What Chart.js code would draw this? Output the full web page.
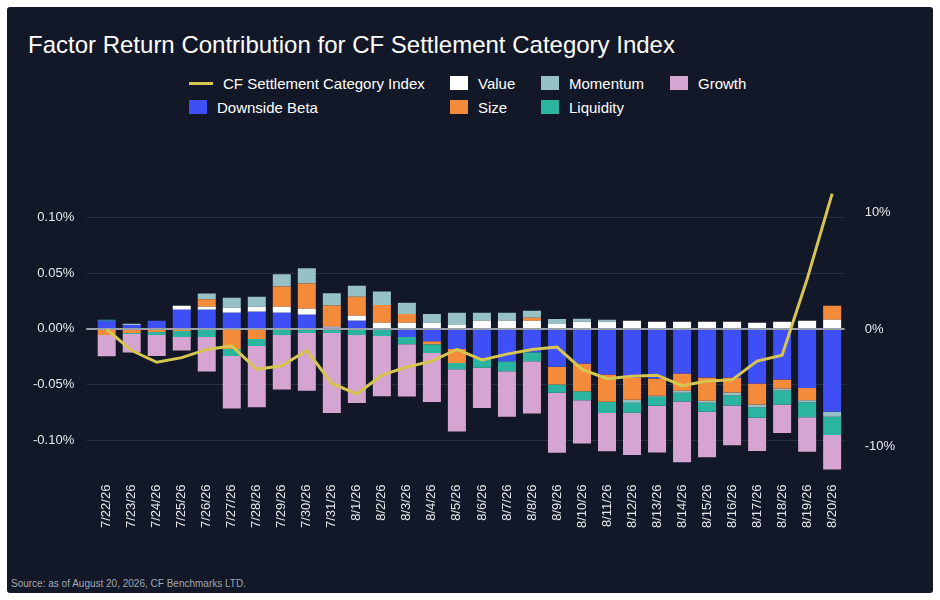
<!DOCTYPE html>
<html><head><meta charset="utf-8">
<script src="https://cdn.jsdelivr.net/npm/chart.js@4/dist/chart.umd.min.js"></script>
<style>
html,body{margin:0;padding:0;background:#fff;width:940px;height:600px;overflow:hidden;font-family:"Liberation Sans",Arial,sans-serif}
#panel{position:absolute;left:7px;top:7px;width:926px;height:586px;background:#121828;border-radius:3px}
#title{position:absolute;left:21px;top:24px;color:#fff;font-size:24px}
#legend{position:absolute;left:182px;top:67px;color:#fff;font-size:15px;display:grid;grid-template-columns:261px 91px 129px 120px;row-gap:6px}
.li{display:flex;align-items:center;gap:10px;height:18px}
.sw{width:18px;height:14px;display:inline-block}
.ln{width:24px;height:3px;display:inline-block}
#src{position:absolute;left:4px;bottom:4px;color:#a0a6b2;font-size:10px}
#wrap{position:absolute;left:0;top:124px;width:926px;height:410px}
</style></head><body>
<div id="panel">
<div id="title">Factor Return Contribution for CF Settlement Category Index</div>
<div id="legend"></div>
<div id="wrap"><canvas id="c"></canvas></div>
<div id="src">Source: as of August 20, 2026, CF Benchmarks LTD.</div>
</div>
<script>
const labels=["7/22/26","7/23/26","7/24/26","7/25/26","7/26/26","7/27/26","7/28/26","7/29/26","7/30/26","7/31/26","8/1/26","8/2/26","8/3/26","8/4/26","8/5/26","8/6/26","8/7/26","8/8/26","8/9/26","8/10/26","8/11/26","8/12/26","8/13/26","8/14/26","8/15/26","8/16/26","8/17/26","8/18/26","8/19/26","8/20/26"];
const downsideBeta=[0.0073,0.0036,0.0073,0.0173,0.0173,0.0145,0.0155,0.0145,0.0127,0.001,0.0073,0,-0.0073,-0.011,-0.018,-0.027,-0.029,-0.021,-0.034,-0.031,-0.041,-0.0436,-0.0445,-0.040,-0.0436,-0.0436,-0.049,-0.0455,-0.053,-0.0745];
const value=[0,0,0,0.0036,0.0027,0.0045,0.0045,0.0055,0.0055,0.001,0.0045,0.0055,0.0055,0.0055,0.0036,0.0073,0.0073,0.0073,0.0045,0.0064,0.0064,0.0073,0.0064,0.0064,0.0064,0.0064,0.0055,0.0064,0.0073,0.0082];
const size=[-0.0055,-0.0036,-0.0027,-0.0018,0.0067,-0.018,-0.009,0.018,0.0227,0.019,0.017,0.016,0.008,-0.0027,-0.0127,0,0,0.0027,-0.016,-0.025,-0.0245,-0.020,-0.0155,-0.0155,-0.021,-0.0136,-0.019,-0.008,-0.011,0.0127];
const momentum=[0,0.001,0,0,0.0052,0.009,0.009,0.011,0.0136,0.011,0.010,0.012,0.010,0.008,0.011,0.0073,0.0073,0.0064,0.0045,0.0027,0.0018,-0.0027,-0.001,-0.0018,-0.0018,-0.0027,-0.0027,-0.0018,-0.0018,-0.0045];
const liquidity=[0.001,-0.001,-0.0027,-0.0055,-0.0073,-0.0064,-0.0064,-0.0055,-0.0036,-0.0036,-0.0055,-0.0064,-0.0064,-0.008,-0.0055,-0.008,-0.009,-0.008,-0.0073,-0.008,-0.010,-0.009,-0.008,-0.008,-0.008,-0.009,-0.009,-0.0127,-0.0136,-0.0164];
const growth=[-0.019,-0.0165,-0.019,-0.012,-0.031,-0.047,-0.055,-0.049,-0.052,-0.072,-0.061,-0.054,-0.047,-0.044,-0.056,-0.036,-0.041,-0.047,-0.054,-0.039,-0.0345,-0.038,-0.042,-0.0545,-0.041,-0.0355,-0.030,-0.0255,-0.031,-0.031];
const indexReturn=[0,-1.8,-2.8,-2.4,-1.7,-1.4,-3.4,-3.1,-1.8,-4.6,-5.5,-3.9,-3.2,-2.7,-1.7,-2.6,-2.1,-1.7,-1.5,-3.4,-4.2,-4.0,-3.9,-4.8,-4.4,-4.3,-2.7,-2.2,4.3,11.6];
const leftTicks=[-0.1,-0.05,0,0.05,0.1];
const rightTicks=[-10,0,10];

const C={beta:"#3e4ff5",value:"#ffffff",size:"#f38b3a",mom:"#95c1c7",liq:"#2bb5a1",growth:"#d5a4d0",line:"#d6c64f"};
const leg=[["line",C.line,"CF Settlement Category Index"],["sw",C.value,"Value"],["sw",C.mom,"Momentum"],["sw",C.growth,"Growth"],["sw",C.beta,"Downside Beta"],["sw",C.size,"Size"],["sw",C.liq,"Liquidity"]];
document.getElementById('legend').innerHTML=leg.map(l=>`<div class="li"><span class="${l[0]=='line'?'ln':'sw'}" style="background:${l[1]}"></span>${l[2]}</div>`).join('');

const bar=(label,data,color)=>({type:'bar',label,data,backgroundColor:color,yAxisID:'y',stack:'s',barPercentage:0.72,categoryPercentage:1,order:2});
new Chart(document.getElementById('c'),{
 data:{labels,datasets:[
  {type:'line',label:'CF Settlement Category Index',data:indexReturn,borderColor:C.line,borderWidth:3,pointRadius:0,yAxisID:'y1',order:0,tension:0},
  bar('Downside Beta',downsideBeta,C.beta),bar('Value',value,C.value),bar('Size',size,C.size),
  bar('Momentum',momentum,C.mom),bar('Liquidity',liquidity,C.liq),bar('Growth',growth,C.growth)]},
 options:{responsive:true,maintainAspectRatio:false,animation:false,
  layout:{padding:{left:14,right:26,top:10,bottom:10}},
  plugins:{legend:{display:false},tooltip:{enabled:false}},
  scales:{
   x:{stacked:true,grid:{display:false},border:{display:false},ticks:{color:'#e6e8ec',font:{size:13},maxRotation:90,minRotation:90,autoSkip:false}},
   y:{stacked:true,min:-0.13,max:0.16,afterBuildTicks:s=>{s.ticks=leftTicks.map(v=>({value:v}))},
      grid:{color:c=>c.tick&&c.tick.value===0?'#9aa0aa':'#283040',lineWidth:c=>c.tick&&c.tick.value===0?2:1},border:{display:false},
      ticks:{color:'#e6e8ec',font:{size:13},padding:12,callback:v=>v.toFixed(2)+'%'}},
   y1:{position:'right',min:-12.3,max:15.25,afterBuildTicks:s=>{s.ticks=rightTicks.map(v=>({value:v}))},
      grid:{display:false},border:{display:false},ticks:{color:'#e6e8ec',font:{size:13},padding:12,callback:v=>v+'%'}}
  }}
});
</script></body></html>
